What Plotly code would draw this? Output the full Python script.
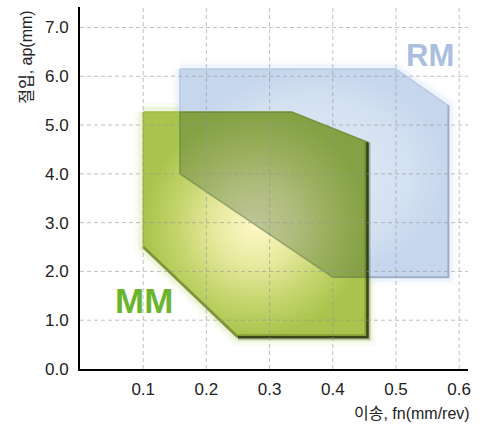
import plotly.graph_objects as go

# ---- data ----
rm_x = [0.158, 0.500, 0.583, 0.583, 0.400, 0.158]
rm_y = [6.15, 6.15, 5.40, 1.88, 1.88, 4.00]
mm_x = [0.100, 0.335, 0.455, 0.455, 0.250, 0.100]
mm_y = [5.27, 5.27, 4.65, 0.65, 0.65, 2.50]
x_ticks = [0.1, 0.2, 0.3, 0.4, 0.5, 0.6]
y_ticks = [0.0, 1.0, 2.0, 3.0, 4.0, 5.0, 6.0, 7.0]
rm_label = ("RM", 0.554, 6.43)
mm_label = ("MM", 0.101, 1.41)
x_title = "이송, fn(mm/rev)"
y_title = "절입, ap(mm)"
X_RANGE = [0, 0.614]
Y_RANGE = [0, 7.42]


def closed(xs, ys):
    return list(xs) + [xs[0]], list(ys) + [ys[0]]


def signed_area(pts):
    a = 0.0
    for i in range(len(pts)):
        x1, y1 = pts[i]
        x2, y2 = pts[(i + 1) % len(pts)]
        a += x1 * y2 - x2 * y1
    return a / 2


def intersect(subject, clipper):
    sgn = 1 if signed_area(clipper) > 0 else -1

    def inside(p, a, b):
        return sgn * ((b[0] - a[0]) * (p[1] - a[1]) - (b[1] - a[1]) * (p[0] - a[0])) >= 0

    def cross_pt(p, q, a, b):
        x1, y1 = p; x2, y2 = q; x3, y3 = a; x4, y4 = b
        den = (x1 - x2) * (y3 - y4) - (y1 - y2) * (x3 - x4)
        t = ((x1 - x3) * (y3 - y4) - (y1 - y3) * (x3 - x4)) / den
        return (x1 + t * (x2 - x1), y1 + t * (y2 - y1))

    out = list(subject)
    for i in range(len(clipper)):
        a = clipper[i]; b = clipper[(i + 1) % len(clipper)]
        inp = out; out = []
        if not inp:
            break
        prev = inp[-1]
        for cur in inp:
            if inside(cur, a, b):
                if not inside(prev, a, b):
                    out.append(cross_pt(prev, cur, a, b))
                out.append(cur)
            elif inside(prev, a, b):
                out.append(cross_pt(prev, cur, a, b))
            prev = cur
    return out


rm_pts = list(zip(rm_x, rm_y))
mm_pts = list(zip(mm_x, mm_y))
ov = intersect(mm_pts, rm_pts)
ov_x = [p[0] for p in ov]
ov_y = [p[1] for p in ov]

fig = go.Figure()


def edge(xs, ys, color, width):
    fig.add_trace(go.Scatter(x=xs, y=ys, mode="lines", line=dict(color=color, width=width),
                             hoverinfo="skip", showlegend=False))


# soft glows
for w, c in [(16, "rgba(205,225,250,0.12)"), (9, "rgba(205,225,250,0.22)")]:
    edge(*closed(rm_x, rm_y), c, w)
for w, c in [(18, "rgba(195,222,125,0.10)"), (10, "rgba(190,218,115,0.18)")]:
    edge(*closed(mm_x, mm_y), c, w)

# RM region
cx, cy = closed(rm_x, rm_y)
fig.add_trace(go.Scatter(
    x=cx, y=cy, mode="lines", fill="toself",
    line=dict(color="rgba(182,200,226,0.9)", width=1.5),
    fillgradient=dict(type="radial",
                      colorscale=[[0, "rgb(225,234,246)"], [0.7, "rgb(212,225,241)"],
                                  [1, "rgb(198,214,237)"]]),
    hoverinfo="skip", showlegend=False))
# RM lower / right edge shading
edge(rm_x[2:5], rm_y[2:5], "rgba(145,160,190,0.7)", 2)

# MM region
cx, cy = closed(mm_x, mm_y)
fig.add_trace(go.Scatter(
    x=cx, y=cy, mode="lines", fill="toself",
    line=dict(color="rgb(160,188,70)", width=1.5),
    fillgradient=dict(type="radial",
                      colorscale=[[0, "rgb(254,248,200)"], [0.35, "rgb(232,234,160)"],
                                  [0.7, "rgb(196,212,108)"], [1, "rgb(168,196,76)"]]),
    hoverinfo="skip", showlegend=False))

# overlap region: darkening overlay
cx, cy = closed(ov_x, ov_y)
fig.add_trace(go.Scatter(
    x=cx, y=cy, mode="lines", fill="toself",
    fillcolor="rgba(55,90,50,0.32)",
    line=dict(color="rgba(85,115,65,0.5)", width=1.5),
    hoverinfo="skip", showlegend=False))

# dark shadow on MM right / bottom / lower-left edges
edge(mm_x[4:6], mm_y[4:6], "rgba(90,110,30,0.55)", 3)
edge(mm_x[2:5], mm_y[2:5], "rgba(60,70,20,0.30)", 6)
edge(mm_x[2:5], mm_y[2:5], "rgba(45,55,15,0.85)", 2.5)

# gridlines drawn above the regions
grid = dict(color="rgba(150,150,150,0.6)", width=1, dash="4px,3px")
shapes = []
for xv in x_ticks:
    shapes.append(dict(type="line", xref="x", yref="paper", x0=xv, x1=xv, y0=0, y1=1,
                       line=grid, layer="above"))
for yv in y_ticks[1:]:
    shapes.append(dict(type="line", xref="paper", yref="y", x0=0, x1=1, y0=yv, y1=yv,
                       line=grid, layer="above"))

annotations = [
    dict(text=rm_label[0], x=rm_label[1], y=rm_label[2], xref="x", yref="y",
         showarrow=False, font=dict(family="Liberation Sans", size=31, color="#aabee0",
                                    weight="bold")),
    dict(text=mm_label[0], x=mm_label[1], y=mm_label[2], xref="x", yref="y",
         showarrow=False, font=dict(family="Liberation Sans", size=35, color="#6ab42e",
                                    weight="bold")),
    dict(text=x_title, x=1.01, y=-0.122, xref="paper", yref="paper", xanchor="right",
         yanchor="middle", showarrow=False,
         font=dict(family="Liberation Sans, Noto Sans CJK KR", size=16, color="#222")),
    dict(text=y_title, x=-0.137, y=0.862, xref="paper", yref="paper", textangle=-90,
         xanchor="center", yanchor="middle", showarrow=False,
         font=dict(family="Liberation Sans, Noto Sans CJK KR", size=16, color="#222")),
]

fig.update_layout(
    width=489, height=426,
    margin=dict(l=80, r=21, t=7, b=57, autoexpand=False),
    paper_bgcolor="white", plot_bgcolor="rgba(0,0,0,0)",
    shapes=shapes, annotations=annotations, showlegend=False,
    xaxis=dict(range=X_RANGE, tickvals=x_ticks, ticktext=[f"{v:.1f}" for v in x_ticks],
               showgrid=False, zeroline=False, showline=True, linecolor="black",
               linewidth=2, ticks="", ticklabelstandoff=4, layer="above traces",
               automargin=False,
               tickfont=dict(family="Liberation Sans", size=17, color="#222")),
    yaxis=dict(range=Y_RANGE, tickvals=y_ticks, ticktext=[f"{v:.1f}" for v in y_ticks],
               showgrid=False, zeroline=False, showline=True, linecolor="black",
               linewidth=2, ticks="", ticklabelstandoff=6, layer="above traces",
               automargin=False,
               tickfont=dict(family="Liberation Sans", size=17, color="#222")),
)

fig.write_html("out.html", config={"displayModeBar": False},
               post_script="document.body.style.margin='0';document.body.style.overflow='hidden';")
